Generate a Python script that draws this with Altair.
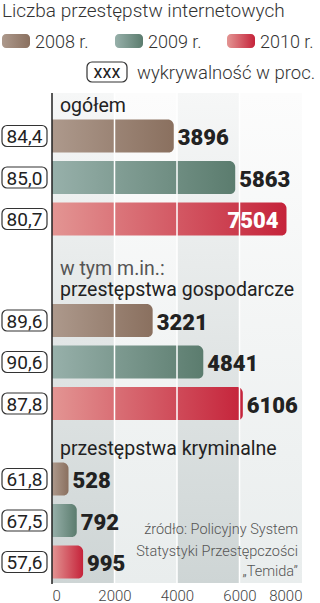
import altair as alt
import pandas as pd

# ---------------- data ----------------
title_text = "Liczba przestępstw internetowych"
groups = ["ogółem", "przestępstwa gospodarcze", "przestępstwa kryminalne"]
group_intro = ["", "w tym m.in.:", ""]
years = ["2008 r.", "2009 r.", "2010 r."]
counts_2008 = [3896, 3221, 528]
counts_2009 = [5863, 4841, 792]
counts_2010 = [7504, 6106, 995]
detect_2008 = [84.4, 89.6, 61.8]
detect_2009 = [85.0, 90.6, 67.5]
detect_2010 = [80.7, 87.8, 57.6]
x_ticks = [0, 2000, 4000, 6000, 8000]
legend_note = "wykrywalność w proc."
legend_box = "xxx"
source_lines = ["źródło: Policyjny System", "Statystyki Przestępczości", "„Temida”"]

# ---------------- layout / style ----------------
W, H = 250, 583
PLOT_TOP = 93
ROW_STEP = 41.5
BAR_H = 33
BOX_H = 21
GROUP_FIRST_ROW = [136, 320.5, 479]
HEADER_BASE = [112, 296, 455]
INTRO_GAP = 21
FONT = "Roboto"
NUM_FONT = "Roboto"

def grad_h(c0, c1):
    return alt.Gradient(gradient="linear", x1=0, x2=1, y1=0, y2=0,
                        stops=[alt.GradientStop(color=c0, offset=0),
                               alt.GradientStop(color=c1, offset=1)])

def grad_v(c0, c1):
    return alt.Gradient(gradient="linear", x1=0, x2=0, y1=0, y2=1,
                        stops=[alt.GradientStop(color=c0, offset=0),
                               alt.GradientStop(color=c1, offset=1)])

year_grad = {
    "2008 r.": grad_h("#ad998c", "#8a705f"),
    "2009 r.": grad_h("#97b0aa", "#5b7c6e"),
    "2010 r.": grad_h("#e39593", "#c5233a"),
}

counts = [counts_2008, counts_2009, counts_2010]
detects = [detect_2008, detect_2009, detect_2010]

rows = []
for g, name in enumerate(groups):
    for yi, yr in enumerate(years):
        c = GROUP_FIRST_ROW[g] + yi * ROW_STEP
        v = counts[yi][g]
        rows.append({
            "group": name, "year": yr, "count": v, "zero": 0,
            "center": c, "top": c - BAR_H / 2, "bottom": c + BAR_H / 2,
            "box_top": c - BOX_H / 2, "box_bot": c + BOX_H / 2,
            "det": f"{detects[yi][g]:.1f}".replace(".", ","),
            "inside": v > 0.85 * x_ticks[-1],
        })
df = pd.DataFrame(rows)

xs = alt.Scale(domain=[x_ticks[0], x_ticks[-1]], nice=False, zero=True)
ys = alt.Scale(domain=[0, H], reverse=True, nice=False, zero=False)
X_AX = alt.Axis(values=x_ticks, domain=False, ticks=False, grid=False, title=None,
                labelFont=FONT, labelFontSize=15, labelColor="#444", labelPadding=5,
                format="d", labelFontWeight=300)

# background bands
bands = pd.DataFrame({
    "x0": x_ticks[:-1], "x1": x_ticks[1:],
    "shade": [i % 2 for i in range(len(x_ticks) - 1)],
    "top": PLOT_TOP, "bottom": H,
})
def band_layer(shade, grad):
    return alt.Chart(bands).transform_filter(alt.datum.shade == shade).mark_rect(fill=grad).encode(
        x=alt.X("x0:Q", scale=xs, axis=X_AX), x2="x1:Q",
        y=alt.Y("top:Q", scale=ys, axis=None), y2="bottom:Q")

bands_dark = band_layer(0, grad_v("#f6f7f7", "#ced5d5"))
bands_light = band_layer(1, grad_v("#fcfcfc", "#e9eded"))

# bars
def bar_layer(yr):
    return alt.Chart(df).transform_filter(alt.datum.year == yr).mark_rect(
        fill=year_grad[yr], cornerRadiusTopRight=6, cornerRadiusBottomRight=5).encode(
        x=alt.X("count:Q", scale=xs, axis=X_AX), x2="zero:Q",
        y=alt.Y("top:Q", scale=ys, axis=None), y2="bottom:Q")

bars = [bar_layer(yr) for yr in years]

grid_df = pd.DataFrame({"x": x_ticks[1:-1], "top": PLOT_TOP, "bottom": H})
grid = alt.Chart(grid_df).mark_rule(color="white", strokeWidth=1.5).encode(
    x=alt.X("x:Q", scale=xs, axis=X_AX),
    y=alt.Y("top:Q", scale=ys, axis=None), y2="bottom:Q")

axis_df = pd.DataFrame({"x": [0], "top": [PLOT_TOP], "bottom": [H + 1]})
axis_line = alt.Chart(axis_df).mark_rule(color="#222", strokeWidth=1.5).encode(
    x=alt.X("x:Q", scale=xs, axis=X_AX),
    y=alt.Y("top:Q", scale=ys, axis=None), y2="bottom:Q")

# value labels
val_out = alt.Chart(df).transform_filter(~alt.datum.inside).mark_text(
    font=NUM_FONT, fontWeight=900, fontSize=22, color="#222", align="left",
    baseline="middle", dx=4, dy=2).encode(
    x=alt.X("count:Q", scale=xs, axis=X_AX),
    y=alt.Y("center:Q", scale=ys, axis=None), text="count:Q")
val_in = alt.Chart(df).transform_filter(alt.datum.inside).mark_text(
    font=NUM_FONT, fontWeight=900, fontSize=22, color="white", align="right",
    baseline="middle", dx=-8, dy=2).encode(
    x=alt.X("count:Q", scale=xs, axis=X_AX),
    y=alt.Y("center:Q", scale=ys, axis=None), text="count:Q")

# detection-rate boxes
boxes = alt.Chart(df).mark_rect(fill="white", stroke="#333", strokeWidth=1.2,
                                 cornerRadius=5).encode(
    x=alt.value(-50), x2=alt.value(-5),
    y=alt.Y("box_top:Q", scale=ys, axis=None), y2="box_bot:Q")
box_txt = alt.Chart(df).mark_text(font=FONT, fontSize=19, color="#222",
                                   align="center", baseline="middle", dy=1).encode(
    x=alt.value(-27.5), y=alt.Y("center:Q", scale=ys, axis=None), text="det:N")

# group headers
hdr_rows = []
for g, name in enumerate(groups):
    hdr_rows.append({"t": name, "y": HEADER_BASE[g], "c": "#222"})
    if group_intro[g]:
        hdr_rows.append({"t": group_intro[g], "y": HEADER_BASE[g] - INTRO_GAP, "c": "#555"})
hdr = alt.Chart(pd.DataFrame(hdr_rows)).mark_text(
    font=FONT, fontSize=19.5, align="left", baseline="alphabetic").encode(
    x=alt.value(8), y=alt.Y("y:Q", scale=ys, axis=None), text="t:N",
    color=alt.Color("c:N", scale=None))

# source
src_df = pd.DataFrame({"t": source_lines, "y": [530, 552, 572]})
src = alt.Chart(src_df).mark_text(font=FONT, fontSize=14.5, fontWeight=300, color="#555",
                                   align="right", baseline="middle").encode(
    x=alt.value(246), y=alt.Y("y:Q", scale=ys, axis=None), text="t:N")

# title + legend (top area)
title = alt.Chart(pd.DataFrame({"t": [title_text]})).mark_text(
    font=FONT, fontSize=19, fontWeight=300, color="#333", align="left",
    baseline="alphabetic").encode(x=alt.value(-50), y=alt.value(17), text="t:N")

leg_x = [-50, 63, 175]
leg_layers = []
for i, yr in enumerate(years):
    sw = alt.Chart(pd.DataFrame({"year": [yr]})).mark_rect(
        fill=year_grad[yr], cornerRadius=4).encode(
        x=alt.value(leg_x[i]), x2=alt.value(leg_x[i] + 28),
        y=alt.value(34), y2=alt.value(48))
    tx = alt.Chart(pd.DataFrame({"year": [yr]})).mark_text(
        font=FONT, fontSize=18, fontWeight=300, color="#333", align="left",
        baseline="alphabetic").encode(
        x=alt.value(leg_x[i] + 33), y=alt.value(48), text="year:N")
    leg_layers += [sw, tx]

note_box = alt.Chart(pd.DataFrame({"t": [legend_box]})).mark_rect(
    fill="white", stroke="#333", strokeWidth=1.2, cornerRadius=5).encode(
    x=alt.value(35), x2=alt.value(75), y=alt.value(62), y2=alt.value(82))
note_box_t = alt.Chart(pd.DataFrame({"t": [legend_box]})).mark_text(
    font=FONT, fontSize=18, color="#222", align="center", baseline="alphabetic").encode(
    x=alt.value(55), y=alt.value(78), text="t:N")
note_t = alt.Chart(pd.DataFrame({"t": [legend_note]})).mark_text(
    font=FONT, fontSize=18.5, fontWeight=300, color="#333", align="left",
    baseline="alphabetic").encode(x=alt.value(85), y=alt.value(79), text="t:N")

chart = alt.layer(
    bands_dark, bands_light, *bars, grid, axis_line, val_out, val_in,
    boxes, box_txt, hdr, src, title, *leg_layers, note_box, note_box_t, note_t
).properties(
    width=W, height=H, autosize="none",
    padding={"left": 52, "top": 0, "right": 18, "bottom": 20},
    background="white",
).configure_view(stroke=None)

chart.save("out.html", embed_options={"renderer": "svg", "actions": False})
